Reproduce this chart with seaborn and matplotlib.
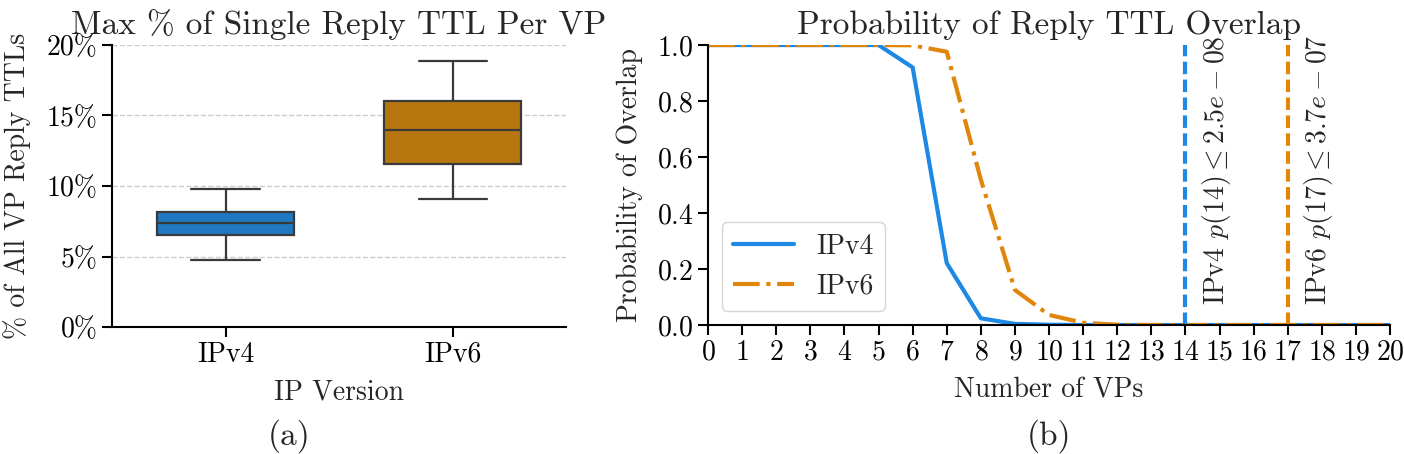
import pandas as pd
import seaborn as sns
import matplotlib.pyplot as plt
from matplotlib.ticker import PercentFormatter

# Data
versions = ["IPv4", "IPv6"]
ipv4_pct = [4.75, 6.56, 7.35, 8.18, 9.76]
ipv6_pct = [9.05, 11.57, 13.98, 16.06, 18.9]

num_vps = list(range(21))
ipv4_prob = [1, 1, 1, 1, 1, 1, 0.92, 0.221, 0.024, 0.004, 0.001,
             0, 0, 0, 0, 0, 0, 0, 0, 0, 0]
ipv6_prob = [1, 1, 1, 1, 1, 1, 0.999, 0.976, 0.519, 0.125, 0.036,
             0.008, 0.001, 0, 0, 0, 0, 0, 0, 0, 0]
ipv4_cut, ipv4_p = 14, r"$p(14) \leq 2.5e-08$"
ipv6_cut, ipv6_p = 17, r"$p(17) \leq 3.7e-07$"

box_colors = {"IPv4": "#1f78c1", "IPv6": "#b8760f"}
line_blue = "#1e88e5"
line_orange = "#e0870b"

sns.set_theme(style="ticks")
plt.rcParams["font.family"] = ["cmr10"]
plt.rcParams["mathtext.fontset"] = "cm"
plt.rcParams["axes.formatter.use_mathtext"] = True
plt.rcParams["axes.unicode_minus"] = False
plt.rcParams["axes.edgecolor"] = "black"
plt.rcParams["axes.linewidth"] = 1.5
plt.rcParams["xtick.major.size"] = 7
plt.rcParams["ytick.major.size"] = 7
plt.rcParams["xtick.major.width"] = 1.5
plt.rcParams["ytick.major.width"] = 1.5
plt.rcParams["xtick.color"] = "black"
plt.rcParams["ytick.color"] = "black"

box_df = pd.DataFrame({
    "version": ["IPv4"] * len(ipv4_pct) + ["IPv6"] * len(ipv6_pct),
    "pct": ipv4_pct + ipv6_pct,
})
line_df = pd.DataFrame({"vps": num_vps, "ipv4": ipv4_prob, "ipv6": ipv6_prob})

fig = plt.figure(figsize=(14.04, 4.54), dpi=100)
ax1 = fig.add_axes([0.0798, 0.2797, 0.3234, 0.6212])
ax2 = fig.add_axes([0.5043, 0.2841, 0.4858, 0.6167])

# (a) boxplot
sns.boxplot(data=box_df, x="version", y="pct", hue="version", order=versions,
            palette=box_colors, width=0.6, saturation=1, linecolor="#3a3a3a",
            linewidth=1.6, legend=False, ax=ax1)
ax1.set_ylim(0, 20)
ax1.set_xlim(-0.5, 1.5)
ax1.set_yticks([0, 5, 10, 15, 20])
ax1.yaxis.set_major_formatter(PercentFormatter(xmax=100, decimals=0))
ax1.yaxis.grid(True, linestyle="--", color="#cccccc", linewidth=1)
ax1.set_axisbelow(True)
ax1.set_title("Max % of Single Reply TTL Per VP", fontsize=24, pad=8)
ax1.set_xlabel("IP Version", fontsize=20, labelpad=8)
ax1.set_ylabel("% of All VP Reply TTLs", fontsize=20, labelpad=11)
ax1.tick_params(labelsize=20)
sns.despine(ax=ax1)

# (b) overlap probability
sns.lineplot(data=line_df, x="vps", y="ipv4", color=line_blue, lw=3,
             label="IPv4", ax=ax2)
sns.lineplot(data=line_df, x="vps", y="ipv6", color=line_orange, lw=3,
             linestyle="-.", label="IPv6", ax=ax2)
ax2.axvline(ipv4_cut, color=line_blue, lw=3, linestyle=(0, (3, 1.3)))
ax2.axvline(ipv6_cut, color=line_orange, lw=3, linestyle=(0, (3, 1.3)))
ax2.text(ipv4_cut + 0.9, 0.07, "IPv4 " + ipv4_p, rotation=90, fontsize=20,
         ha="center", va="bottom")
ax2.text(ipv6_cut + 0.9, 0.07, "IPv6 " + ipv6_p, rotation=90, fontsize=20,
         ha="center", va="bottom")
ax2.set_xlim(0, 20)
ax2.set_ylim(0, 1)
ax2.set_xticks(num_vps)
ax2.set_yticks([0, 0.2, 0.4, 0.6, 0.8, 1.0])
ax2.set_title("Probability of Reply TTL Overlap", fontsize=24, pad=8)
ax2.set_xlabel("Number of VPs", fontsize=20, labelpad=8)
ax2.set_ylabel("Probability of Overlap", fontsize=20, labelpad=10)
ax2.tick_params(labelsize=20)
ax2.legend(loc="lower left", bbox_to_anchor=(0.02, 0.05), borderaxespad=0,
           fontsize=20, handlelength=2.2, edgecolor="#cccccc")
sns.despine(ax=ax2)

fig.text(0.2058, 0.04, "(a)", fontsize=24, ha="center", va="center")
fig.text(0.7475, 0.04, "(b)", fontsize=24, ha="center", va="center")

fig.savefig("out.png", dpi=100)
